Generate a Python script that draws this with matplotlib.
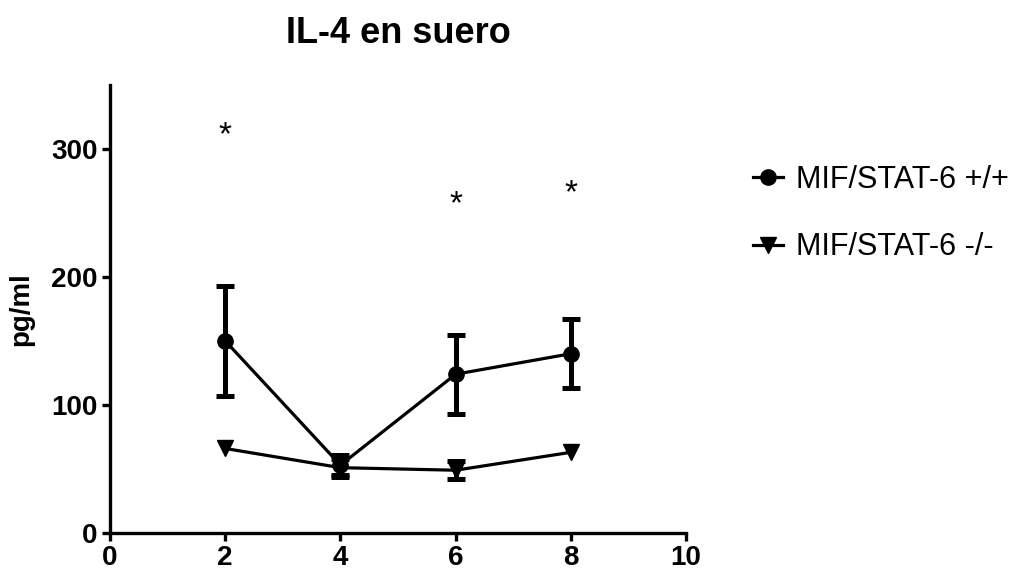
import matplotlib
matplotlib.use("Agg")
import matplotlib.pyplot as plt

plt.rcParams['font.family'] = ['Liberation Sans', 'DejaVu Sans']

# data
days = [2, 4, 6, 8]
wt_mean = [150, 53, 124, 140]
wt_err = [43, 8, 31, 27]
ko_mean = [66, 51, 49, 63]
ko_err = [0, 7, 7, 0]
wt_label = "MIF/STAT-6 +/+"
ko_label = "MIF/STAT-6 -/-"

# significance marks
star_x = [2, 6, 8]
star_y = [310, 256, 265]

fig = plt.figure(figsize=(10.16, 5.76), dpi=100)
ax = fig.add_axes([0.1083, 0.0747, 0.567, 0.778])

lw = 2.3
eb = dict(fmt='none', ecolor='black', elinewidth=3.6, capsize=6.5,
          capthick=3.6, zorder=2)

# error bars only where there is a spread
for mean, err in [(wt_mean, wt_err), (ko_mean, ko_err)]:
    xs = [d for d, e in zip(days, err) if e > 0]
    ys = [m for m, e in zip(mean, err) if e > 0]
    es = [e for e in err if e > 0]
    ax.errorbar(xs, ys, yerr=es, **eb)

ax.plot(days, wt_mean, color='black', lw=lw, marker='o', markersize=11,
        label=wt_label, zorder=3)
ax.plot(days, ko_mean, color='black', lw=lw, marker='v', markersize=12,
        label=ko_label, zorder=3)

for x, y in zip(star_x, star_y):
    ax.text(x, y, '*', ha='center', va='center', fontsize=24)

ax.set_xlim(0, 10)
ax.set_ylim(0, 350)
ax.set_xticks([0, 2, 4, 6, 8, 10])
ax.set_yticks([0, 100, 200, 300])
for s in ['top', 'right']:
    ax.spines[s].set_visible(False)
for s in ['left', 'bottom']:
    ax.spines[s].set_linewidth(2.4)
ax.tick_params(width=2.4, length=6, labelsize=20, pad=3)
for lbl in ax.get_xticklabels() + ax.get_yticklabels():
    lbl.set_fontweight('bold')

ax.set_ylabel('pg/ml', fontsize=20, fontweight='bold', labelpad=12)
ax.set_title('IL-4 en suero', fontsize=26, fontweight='bold', pad=30)

fig.legend(loc='upper left', bbox_to_anchor=(0.726, 0.74),
           frameon=False, fontsize=22, handlelength=1.0, handletextpad=0.4,
           labelspacing=1.22, borderpad=0)

fig.savefig('out.png', dpi=100)
